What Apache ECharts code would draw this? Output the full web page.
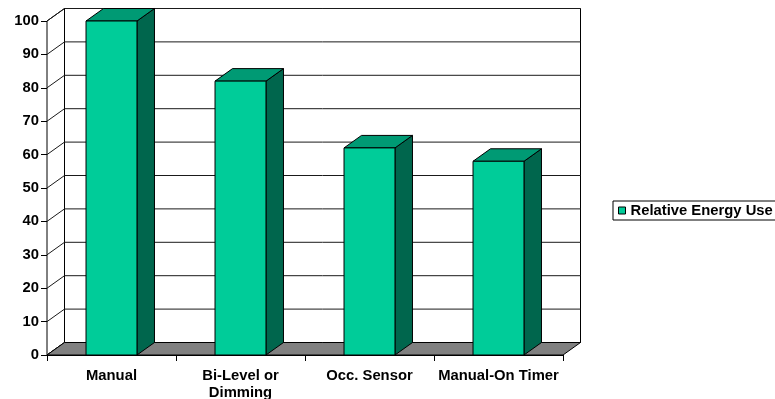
<!DOCTYPE html>
<html>
<head>
<meta charset="utf-8">
<script src="https://cdn.jsdelivr.net/npm/echarts@6/dist/echarts.min.js"></script>
<style>
  html, body { margin: 0; padding: 0; background: #fff; }
  #chart { width: 775px; height: 399px; }
</style>
</head>
<body>
<div id="chart"></div>
<script>
// Lighting control strategies and their relative energy use
const categories = ['Manual', 'Bi-Level or\nDimming', 'Occ. Sensor', 'Manual-On Timer'];
const energyUse = [100, 82, 62, 58];
const seriesName = 'Relative Energy Use';
const yMin = 0;
const yMax = 100;
const yStep = 10;
const yTicks = [0, 10, 20, 30, 40, 50, 60, 70, 80, 90, 100];

// 3D look: depth offset of the back plane (pixels) and shading colours
const DX = 17.5;
const DY = -12.5;
const FRONT = '#00CC99';
const TOP = '#009A74';
const SIDE = '#00664D';
const FLOOR = '#808080';
const FONT = '"Liberation Sans", Arial, sans-serif';

const chart = echarts.init(document.getElementById('chart'));

// Walls, floor and gridlines of the box the columns stand in
function renderFrame(params, api) {
  const cs = params.coordSys;
  const left = cs.x, right = cs.x + cs.width;
  const y0 = api.coord([0, yMin])[1];
  const yTop = api.coord([0, yMax])[1];
  const children = [];
  // back wall
  children.push({
    type: 'polygon',
    shape: { points: [[left + DX, yTop + DY], [right + DX, yTop + DY], [right + DX, y0 + DY], [left + DX, y0 + DY]] },
    style: { fill: '#fff', stroke: '#000', lineWidth: 1 }
  });
  // left side wall
  children.push({
    type: 'polygon',
    shape: { points: [[left, yTop], [left + DX, yTop + DY], [left + DX, y0 + DY], [left, y0]] },
    style: { fill: '#fff', stroke: '#000', lineWidth: 1 }
  });
  // gridlines on back wall and side wall
  yTicks.forEach(function (t) {
    const y = api.coord([0, t])[1];
    children.push({
      type: 'polyline',
      shape: { points: [[left, y], [left + DX, y + DY], [right + DX, y + DY]] },
      style: { fill: null, stroke: '#1a1a1a', lineWidth: 1 }
    });
  });
  // floor
  children.push({
    type: 'polygon',
    shape: { points: [[left, y0], [right, y0], [right + DX, y0 + DY], [left + DX, y0 + DY]] },
    style: { fill: FLOOR, stroke: '#000', lineWidth: 1 }
  });
  return { type: 'group', children: children };
}

// One shaded 3D column per category
function renderColumn(params, api) {
  const idx = api.value(0);
  const base = api.coord([idx, 0]);
  const top = api.coord([idx, api.value(1)]);
  const w = api.size([1, 0])[0] * 0.395;
  const xl = top[0] - w / 2, xr = top[0] + w / 2;
  const yt = top[1], yb = base[1];
  return {
    type: 'group',
    children: [
      {
        type: 'polygon',
        shape: { points: [[xr, yt], [xr + DX, yt + DY], [xr + DX, yb + DY], [xr, yb]] },
        style: { fill: SIDE, stroke: '#000', lineWidth: 1 }
      },
      {
        type: 'polygon',
        shape: { points: [[xl, yt], [xr, yt], [xr + DX, yt + DY], [xl + DX, yt + DY]] },
        style: { fill: TOP, stroke: '#000', lineWidth: 1 }
      },
      {
        type: 'rect',
        shape: { x: xl, y: yt, width: w, height: yb - yt },
        style: { fill: FRONT, stroke: '#000', lineWidth: 1 }
      }
    ]
  };
}

chart.setOption({
  animation: false,
  backgroundColor: '#fff',
  textStyle: { fontFamily: FONT },
  grid: { left: 47, right: 212, top: 21, bottom: 44, containLabel: false, outerBoundsMode: 'none' },
  legend: {
    left: 613,
    top: 201,
    orient: 'vertical',
    padding: [2, 12, 2, 5],
    itemWidth: 7,
    itemHeight: 7,
    itemGap: 0,
    borderColor: '#000',
    borderWidth: 1,
    backgroundColor: '#fff',
    textStyle: { fontFamily: FONT, fontSize: 14.8, fontWeight: 'bold', color: '#000' },
    data: [{ name: seriesName, icon: 'rect', itemStyle: { color: FRONT, borderColor: '#000', borderWidth: 1 } }]
  },
  xAxis: {
    type: 'category',
    data: categories,
    boundaryGap: true,
    axisLine: { show: true, lineStyle: { color: '#000', width: 1 } },
    axisTick: { show: true, length: 6, lineStyle: { color: '#000' } },
    axisLabel: {
      color: '#000', fontFamily: FONT, fontSize: 14.8, fontWeight: 'bold',
      margin: 12.5, lineHeight: 17, interval: 0
    },
    splitLine: { show: false }
  },
  yAxis: {
    type: 'value',
    min: yMin,
    max: yMax,
    interval: yStep,
    axisLine: { show: true, lineStyle: { color: '#000', width: 1 } },
    axisTick: { show: true, length: 6, lineStyle: { color: '#000' } },
    axisLabel: { color: '#000', fontFamily: FONT, fontSize: 14.8, fontWeight: 'bold', margin: 8 },
    splitLine: { show: false }
  },
  series: [
    {
      name: 'frame',
      type: 'custom',
      silent: true,
      z: 1,
      data: [[0, 0]],
      encode: { x: 0, y: 1 },
      renderItem: renderFrame
    },
    {
      name: seriesName,
      type: 'custom',
      z: 3,
      itemStyle: { color: FRONT, borderColor: '#000', borderWidth: 1 },
      data: energyUse.map(function (v, i) { return [i, v]; }),
      encode: { x: 0, y: 1 },
      renderItem: renderColumn
    }
  ]
});
</script>
</body>
</html>
